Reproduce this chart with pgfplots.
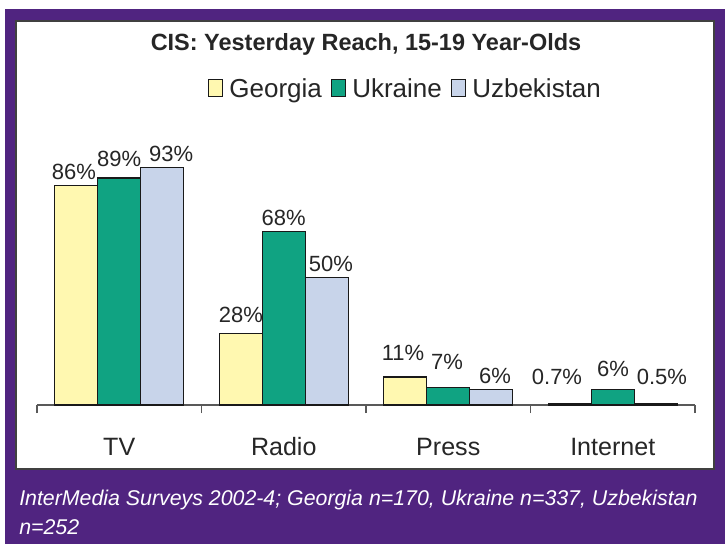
\documentclass[border=0pt]{standalone}
\usepackage{pgfplots}
\pgfplotsset{compat=1.18}
\usepackage{fontspec}
\setmainfont{Liberation Sans}
\definecolor{purp}{RGB}{80,36,128}
\definecolor{geo}{RGB}{255,248,176}
\definecolor{ukr}{RGB}{16,163,130}
\definecolor{uzb}{RGB}{200,212,234}
\begin{document}
\begin{tikzpicture}[x=0.75pt,y=0.75pt]
\fill[white] (0,0) rectangle (725,544);
\fill[purp] (5,0) rectangle (725,535);
\filldraw[fill=white,draw=black!75,line width=0.9pt] (16,75) rectangle (714,523);
\node[anchor=base,font=\fontsize{17.6}{20}\selectfont\bfseries,text=black!85] at (366,493) {CIS: Yesterday Reach, 15-19 Year-Olds};
\node[anchor=base west,text=white,font=\fontsize{16}{19}\selectfont\itshape,inner sep=0pt] at (19,39) {InterMedia Surveys 2002-4; Georgia n=170, Ukraine n=337, Uzbekistan};
\node[anchor=base west,text=white,font=\fontsize{16}{19}\selectfont\itshape,inner sep=0pt] at (19,10) {n=252};
\begin{axis}[
  at={(27.75pt,104.25pt)}, anchor=south west,
  scale only axis, width=493.5pt, height=191.25pt,
  xmin=-0.5, xmax=3.5, ymin=0, ymax=100,
  axis x line*=bottom, axis y line=none,
  x axis line style={black!65,line width=0.9pt},
  xtick={0,1,2,3}, xticklabels={TV,Radio,Press,Internet},
  major tick length=0pt,
  minor xtick={-0.5,0.5,1.5,2.5,3.5},
  minor tick length=6pt, tick align=outside,
  minor tick style={black!65,line width=0.9pt},
  x tick label style={font=\fontsize{18.8}{21}\selectfont,text=black!85,anchor=base,yshift=-37.5pt},
  clip=false,
  legend columns=-1,
  legend style={draw=none,fill=none,at={(0.26,1.239)},anchor=west,inner sep=0pt,
    font=\fontsize{19.5}{21}\selectfont,text=black!85,
    /tikz/every odd column/.append style={column sep=3pt},
    /tikz/every even column/.append style={column sep=5pt}},
  legend image code/.code={\draw[#1,line width=0.8pt] (0pt,-5.5pt) rectangle (10pt,7.5pt);},
]
\addplot[ybar,bar width=0.2614,bar shift=-0.2614,fill=geo,draw=black!90,line width=0.9pt] coordinates {(0,86) (1,28) (2,11) (3,0.7)};
\addplot[ybar,bar width=0.2614,bar shift=0,fill=ukr,draw=black!90,line width=0.9pt] coordinates {(0,89) (1,68) (2,7) (3,6)};
\addplot[ybar,bar width=0.2614,bar shift=0.2614,fill=uzb,draw=black!90,line width=0.9pt] coordinates {(0,93) (1,50) (2,6) (3,0.5)};
\legend{Georgia,Ukraine,Uzbekistan}
\addplot[draw=none,mark=none,forget plot,nodes near coords,point meta=explicit symbolic,
  every node near coord/.append style={anchor=base,inner sep=0pt,font=\fontsize{16.5}{18}\selectfont,text=black!85}]
  coordinates {
  (-0.275,88.6) [86\%] (0.0,93.7) [89\%] (0.315,95.3) [93\%]
  (0.740,32.2) [28\%] (1.0,70.2) [68\%] (1.287,52.2) [50\%]
  (1.725,17.6) [11\%] (1.992,14.1) [7\%] (2.284,8.6) [6\%]
  (2.661,8.2) [0.7\%] (3.002,11.0) [6\%] (3.299,8.2) [0.5\%]
  };
\end{axis}
\end{tikzpicture}
\end{document}
